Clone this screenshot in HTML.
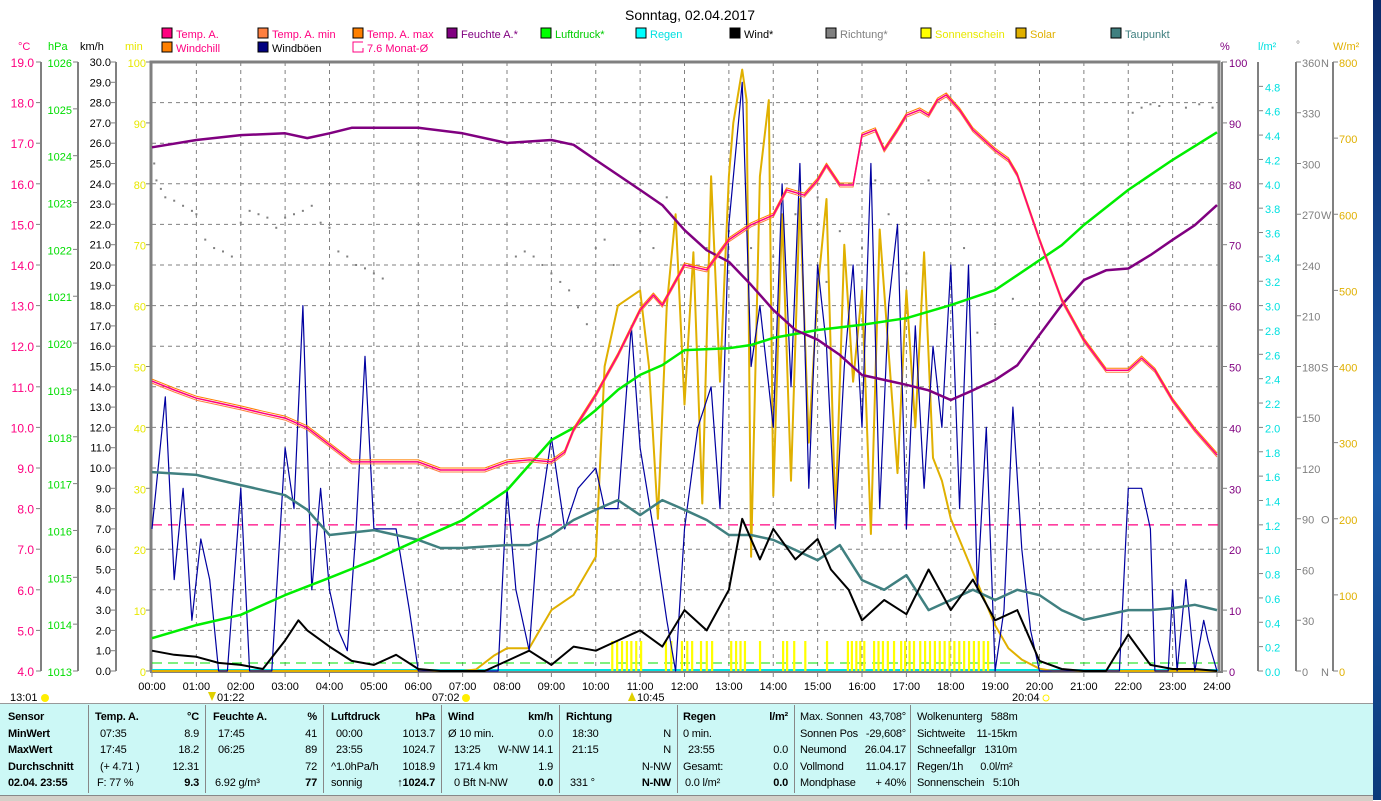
<!DOCTYPE html>
<html><head><meta charset="utf-8">
<style>
body{margin:0;width:1381px;height:800px;overflow:hidden;background:#fff;font-family:"Liberation Sans",sans-serif;position:relative}
svg{position:absolute;left:0;top:0}
.panel{position:absolute;left:0;top:703px;width:1373px;height:92px;background:#ccf8f6;border-top:1px solid #999}
.t{position:absolute;font-size:11px;white-space:pre;line-height:13px;color:#000;letter-spacing:-0.2px}
.b{font-weight:bold}
.sep{position:absolute;top:705px;width:1px;height:88px;background:#888}
</style></head><body>
<svg id="chart" width="1381" height="800"></svg>
<div class="panel"></div>
<div id="pt"></div>
<div style="position:absolute;left:1373px;top:0;width:8px;height:800px;background:linear-gradient(#0b2a6a,#1a5aa8 60%,#0b3a7a)"></div>
<div style="position:absolute;left:0;top:795px;width:1373px;height:5px;background:#d4d0c8;border-top:1px solid #888"></div>
<script>
// ---- data ----
const tempHours=[0,0.5,1,1.5,2,2.5,3,3.5,4,4.5,5,5.5,6,6.5,7,7.5,8,8.5,9,9.3,9.5,10,10.5,11,11.3,11.5,12,12.5,13,13.5,14,14.3,14.7,15,15.2,15.5,15.8,16,16.3,16.5,16.8,17,17.3,17.5,17.7,17.9,18.2,18.5,19,19.3,19.5,20,20.5,21,21.5,22,22.3,22.6,23,23.5,24];
const tempVals=[11.14,10.92,10.72,10.6,10.48,10.35,10.23,9.99,9.57,9.15,9.15,9.15,9.15,8.95,8.95,8.95,9.15,9.2,9.15,9.39,9.94,10.8,11.78,12.89,13.26,13.01,14.0,13.88,14.62,14.99,15.23,15.85,15.72,16.09,16.46,15.97,15.97,17.2,17.33,16.83,17.33,17.69,17.82,17.69,18.06,18.19,17.82,17.33,16.83,16.59,16.22,14.62,13.14,12.15,11.41,11.41,11.71,11.41,10.67,9.94,9.32];
const presHours=[0,1,2,3,4,5,6,7,8,9,9.5,10,10.5,11,11.5,12,13,13.5,14,15,16,17,18,19,19.5,20,20.5,21,22,23,24];
const presVals=[1013.7,1013.98,1014.2,1014.62,1014.99,1015.37,1015.8,1016.22,1016.86,1017.93,1018.19,1018.57,1019.0,1019.32,1019.53,1019.85,1019.89,1019.96,1020.11,1020.28,1020.39,1020.53,1020.81,1021.13,1021.45,1021.77,1022.09,1022.52,1023.27,1023.91,1024.5];
const humHours=[0,1,2,3,3.5,4,4.5,5,6,7,8,9,9.5,10,11,11.5,12,12.5,13,13.5,14,14.5,15,15.5,16,17,17.5,18,18.5,19,19.5,20,20.5,21,21.5,22,22.5,23,23.5,24];
const humVals=[86.0,87.2,88.0,88.3,87.5,88.3,89.2,89.2,89.2,88.3,86.7,87.2,86.4,83.9,79.0,76.5,72.4,69.1,67.2,63.4,59.3,56.0,54.4,51.9,48.6,47.0,46.1,44.5,46.1,47.8,50.2,55.2,60.1,64.2,65.8,66.1,68.3,70.8,73.2,76.5];
const dewHours=[0,1,2,3,3.5,4,5,6,6.5,7,8,8.5,9,9.5,10,10.5,11,11.5,12,12.5,13,13.5,14,14.5,15,15.5,16,16.5,17,17.5,18,18.5,19,19.5,20,20.5,21,21.5,22,22.5,23,23.5,24];
const dewVals=[8.9,8.83,8.58,8.33,7.97,7.35,7.47,7.23,7.03,7.03,7.1,7.1,7.35,7.72,7.97,8.21,7.84,8.21,7.97,7.72,7.35,7.35,7.23,6.98,6.73,7.1,6.24,6.0,6.36,5.5,5.75,6.0,5.75,6.0,5.87,5.5,5.26,5.38,5.5,5.5,5.55,5.63,5.5];
const windHours=[0,0.5,1,1.5,2,2.5,3,3.3,3.5,4,4.5,5,5.5,6,6.5,7,7.5,8,8.5,9,9.5,10,10.5,11,11.5,12,12.5,13,13.3,13.7,14,14.5,15,15.3,15.7,16,16.5,17,17.5,18,18.5,19,19.5,20,20.5,21,21.5,22,22.5,23,23.5,24];
const windVals=[1.0,0.8,0.7,0.4,0.3,0.1,1.5,2.5,2.0,1.2,0.5,0.3,0.8,0.1,0,0,0,0.5,1.0,0.3,1.2,1.0,1.5,2.0,1.2,3.0,2.0,4.0,7.5,5.5,7.0,5.5,6.5,5.0,4.0,2.5,3.5,2.8,5.0,3.0,4.5,2.5,3.0,0.5,0.1,0,0,1.8,0.3,0.1,0.1,0];
const gustHours=[0,0.3,0.5,0.7,0.9,1.1,1.3,1.5,1.7,2,2.2,2.5,2.7,3,3.2,3.4,3.6,3.8,4.0,4.2,4.4,4.6,4.8,5.0,5.2,5.5,5.8,6,6.5,7,7.5,7.8,8,8.2,8.5,8.7,9,9.3,9.6,10,10.2,10.5,10.8,11,11.3,11.6,11.8,12,12.3,12.6,12.8,13,13.3,13.5,13.7,14,14.2,14.4,14.6,14.8,15,15.2,15.4,15.6,15.8,16,16.2,16.4,16.6,16.8,17,17.2,17.4,17.6,17.8,18,18.2,18.4,18.6,18.8,19,19.2,19.4,19.6,19.8,20,21,21.8,22,22.3,22.5,22.6,22.9,23.0,23.1,23.3,23.5,23.7,23.8,24];
const gustVals=[7,13.5,4.5,9,2.5,6.5,4.5,0,0,9,0,0,0,11,8,18,4,9,4,2,1,7,15.5,7,7,7,3,0,0,0,0,0,9,4,1,7,11.5,7,9,10,8,8,17,11,7,2.5,0,7,12,14,8,22,29,15,18,12,24,14,25,9,20,16,7,15,20,12,25,8,18,22,7,17,9,16,12,20,8,20,4,12,0,3,13,6,2,0,0,0,9,9,7,0,0,4,0,4.5,0,2.5,1.5,0];
const solarHours=[0,7,7.3,7.7,8,8.5,9,9.5,10,10.2,10.5,11,11.2,11.4,11.6,11.8,12,12.2,12.4,12.6,12.8,13,13.1,13.3,13.4,13.5,13.7,13.9,14,14.2,14.4,14.6,14.8,15,15.2,15.4,15.6,15.8,16,16.2,16.4,16.6,16.8,17,17.2,17.4,17.6,17.8,18,18.5,19,19.3,19.6,20,20.3,24];
const solarVals=[0,0,2,20,30,30,80,100,150,400,480,500,400,200,480,600,350,550,220,650,380,650,720,790,750,150,650,750,230,600,250,620,300,500,620,200,560,380,500,180,580,420,260,500,320,550,280,250,200,130,60,30,15,3,0,0];
const sunHours=[10.37,10.48,10.59,10.7,10.8,10.91,11.02,11.58,11.7,11.94,12.06,12.17,12.37,12.5,12.62,13.05,13.16,13.26,13.36,13.7,14.22,14.31,14.47,14.72,15.21,15.68,15.77,15.87,15.96,16.05,16.27,16.37,16.47,16.58,16.72,16.88,16.97,17.07,17.17,17.31,17.42,17.53,17.64,17.75,17.86,17.97,18.08,18.19,18.3,18.41,18.52,18.63,18.74,18.84];
const dirHours=[0.05,0.1,0.2,0.3,0.5,0.7,0.9,1.0,1.2,1.4,1.6,1.8,2.0,2.2,2.4,2.6,2.8,3.0,3.2,3.4,3.6,3.8,4.0,4.2,4.4,4.6,4.8,5.0,5.2,8.2,8.4,8.6,8.8,9.0,9.2,9.4,9.6,9.8,10.0,10.2,10.4,11.0,11.3,11.6,12,12.5,13,13.5,14,14.5,15,15.2,15.5,16,16.3,16.6,17,17.5,18,18.3,18.6,19,19.4,22.1,22.3,22.5,22.7,23.3,23.6,23.9];
const dirVals=[300,290,285,280,278,275,272,270,255,250,248,245,265,272,270,268,262,268,270,272,275,265,262,248,245,240,238,235,232,245,248,245,240,235,230,225,215,205,250,255,240,260,250,280,240,250,260,250,245,270,280,230,260,250,290,270,235,290,235,250,200,205,220,330,333,335,334,333,335,333];
const monthAvg=7.6;
const hourLabels=["00:00","01:00","02:00","03:00","04:00","05:00","06:00","07:00","08:00","09:00","10:00","11:00","12:00","13:00","14:00","15:00","16:00","17:00","18:00","19:00","20:00","21:00","22:00","23:00","24:00"];

// ---- scales ----
const X=h=>152+h*44.375;
const yT=t=>671-(t-4)*40.6;
const yP=p=>671-(p-1013)*46.846;
const yW=w=>671-w*20.3;
const yH=v=>671-v*6.09;
const yS=s=>671-s*0.76125;
const yD=d=>671-d*1.6917;

const svg=document.getElementById('chart');
const NS='http://www.w3.org/2000/svg';
function mk(tag,attrs,parent){const e=document.createElementNS(NS,tag);for(const k in attrs)e.setAttribute(k,attrs[k]);(parent||svg).appendChild(e);return e;}
function txt(x,y,s,fill,anchor,size){const e=mk('text',{x:x,y:y,fill:fill,'text-anchor':anchor||'start','font-size':size||11,'font-family':'Liberation Sans, sans-serif'});e.textContent=s;return e;}

for(let h=1;h<24;h++){const l=mk('line',{x1:X(h),x2:X(h),y1:62,y2:671,stroke:'#808080','stroke-dasharray':'4,4','stroke-width':1});

}
for(let t=5;t<19;t++){const l=mk('line',{x1:152,x2:1218,y1:yT(t),y2:yT(t),stroke:'#808080','stroke-dasharray':'4,4','stroke-width':1});

}
let bd=mk('path',{d:'M151,671 V62 H1219 V673',fill:'none',stroke:'#808080','stroke-width':3});


mk('line',{x1:1222,x2:1222,y1:62,y2:673,stroke:'#808080','stroke-width':2});
mk('line',{x1:150,x2:1222,y1:672,y2:672,stroke:'#808080','stroke-width':2});

let ml=mk('line',{x1:152,x2:1218,y1:yT(monthAvg),y2:yT(monthAvg),stroke:'#ff0080','stroke-dasharray':'10,6','stroke-width':1.2});


mk('line',{x1:152,x2:1218,y1:663,y2:663,stroke:'#00e000','stroke-dasharray':'10,6','stroke-width':1});
mk('line',{x1:152,x2:1218,y1:670,y2:670,stroke:'#00e0e0','stroke-width':2});

sunHours.forEach(h=>{const r=mk('rect',{x:X(h)-1,y:641,width:2.2,height:30,fill:'#ffff00'});

});
dirHours.forEach((h,i)=>{const c=mk('rect',{x:X(h)-1,y:yD(dirVals[i])-1,width:2,height:2,fill:'#808080'});

});

function line(hs,vs,ys,color,w,name,dy){const d=hs.map((h,i)=>(i?'L':'M')+X(h).toFixed(1)+','+(ys(vs[i])+(dy||0)).toFixed(1)).join(' ');
const p=mk('path',{d:d,fill:'none',stroke:color,'stroke-width':w,'stroke-linejoin':'round'});

return p;}
line(solarHours,solarVals,yS,'#e0b000',2,'solar-line');
line(gustHours,gustVals,yW,'#0000a0',1.2,'gust-line');
line(dewHours,dewVals,yT,'#408080',2.5,'dewpoint-line');
line(presHours,presVals,yP,'#00ee00',2.5,'pressure-line');
line(humHours,humVals,yH,'#800080',2.5,'humidity-line');
line(windHours,windVals,yW,'#000000',2,'wind-line');
line(tempHours,tempVals,yT,'#ff8000',1,'temp-max-line',-2);
line(tempHours,tempVals,yT,'#ff8040',1,'temp-min-line',2);
line(tempHours,tempVals,yT,'#ff0080',1.5,'temp-line');

function vaxis(x){mk('line',{x1:x,x2:x,y1:62,y2:671,stroke:'#808080','stroke-width':2});}
vaxis(41);vaxis(78);vaxis(116);vaxis(1258);vaxis(1296);vaxis(1333);
for(let t=4;t<=19;t++){const y=yT(t);mk('line',{x1:36,x2:41,y1:y,y2:y,stroke:'#808080'});txt(34,y+5,t.toFixed(1),'#ff0080','end',12);}
for(let p=1013;p<=1026;p++){const y=yP(p);mk('line',{x1:73,x2:78,y1:y,y2:y,stroke:'#808080'});txt(72,y+5,String(p),'#00dd00','end',11);}
for(let w=0;w<=30;w++){const y=yW(w);mk('line',{x1:111,x2:116,y1:y,y2:y,stroke:'#808080'});txt(111,y+4,w.toFixed(1),'#000','end',11);}
for(let m=0;m<=100;m+=10){const y=yH(m);mk('line',{x1:146,x2:151,y1:y,y2:y,stroke:'#808080'});txt(146,y+5,String(m),'#e8e800','end',11);}
txt(18,50,'°C','#ff0080','start',11);txt(48,50,'hPa','#00dd00','start',11);txt(80,50,'km/h','#000','start',11);txt(125,50,'min','#e8e800','start',11);
for(let v=0;v<=100;v+=10){const y=yH(v);mk('line',{x1:1222,x2:1227,y1:y,y2:y,stroke:'#808080'});txt(1229,y+5,String(v),'#800080','start',11);}
for(let k=0;k<=24;k++){const v=k*0.2,y=671-v*121.8;mk('line',{x1:1258,x2:1263,y1:y,y2:y,stroke:'#808080'});txt(1265,y+5,v.toFixed(1),'#00e0e0','start',11);}
const dirL={0:'N',90:'O',180:'S',270:'W',360:'N'};
for(let d=0;d<=360;d+=30){const y=yD(d);mk('line',{x1:1296,x2:1301,y1:y,y2:y,stroke:'#808080'});txt(1302,y+5,String(d),'#808080','start',11);if(dirL[d]!==undefined)txt(1321,y+5,dirL[d],'#808080','start',11);}
for(let s=0;s<=800;s+=100){const y=yS(s);mk('line',{x1:1333,x2:1338,y1:y,y2:y,stroke:'#808080'});txt(1339,y+5,String(s),'#e0b000','start',11);}
txt(1220,50,'%','#800080','start',11);txt(1258,50,'l/m²','#00e0e0','start',11);txt(1296,48,'°','#808080','start',10);txt(1333,50,'W/m²','#e0b000','start',11);
hourLabels.forEach((s,i)=>{txt(X(i),690,s,'#000','middle',11);mk('line',{x1:X(i),x2:X(i),y1:672,y2:677,stroke:'#808080'});});
txt(10,701,'13:01','#000','start',11);mk('circle',{cx:45,cy:698,r:4,fill:'#ffee00'});
txt(217,701,'01:22','#000','start',11);mk('path',{d:'M208,692 l4,9 l4,-9z',fill:'#e0d000'});
txt(432,701,'07:02','#000','start',11);mk('circle',{cx:466,cy:698,r:4,fill:'#ffee00'});
txt(637,701,'10:45','#000','start',11);mk('path',{d:'M628,701 l4,-9 l4,9z',fill:'#e0d000'});
txt(1012,701,'20:04','#000','start',11);mk('circle',{cx:1046,cy:698,r:3,fill:'none',stroke:'#ffee00'});
txt(690,20,'Sonntag, 02.04.2017','#000','middle',14);
const leg=[[162,38,'Temp. A.','#ff0080','#ff0080'],[258,38,'Temp. A. min','#ff8040','#ff0080'],[353,38,'Temp. A. max','#ff8000','#ff0080'],[447,38,'Feuchte A.*','#800080','#800080'],[541,38,'Luftdruck*','#00ff00','#00cc00'],[636,38,'Regen','#00ffff','#00e0e0'],[730,38,'Wind*','#000000','#000'],[826,38,'Richtung*','#808080','#808080'],[921,38,'Sonnenschein','#ffff00','#e8e800'],[1016,38,'Solar','#e0b000','#e0b000'],[1111,38,'Taupunkt','#408080','#408080'],[162,52,'Windchill','#ff8000','#ff0080'],[258,52,'Windböen','#000080','#000']];
leg.forEach(l=>{const r=mk('rect',{x:l[0],y:l[1]-10,width:10,height:10,fill:l[3],stroke:'#000'});


const t=txt(l[0]+14,l[1],l[2],l[4],'start',11);

});
mk('path',{d:'M363,42 H353 V52 H363 V48',fill:'none',stroke:'#ff0080'});
txt(367,52,'7.6 Monat-Ø','#ff0080','start',11);

const P=document.getElementById('pt');
function pt(x,row,s,bold,right){const d=document.createElement('div');d.className='t'+(bold?' b':'');d.textContent=s;d.style.top=(711+row*16.5)+'px';
if(right){d.style.right=(1381-x)+'px';}else d.style.left=x+'px';

P.appendChild(d);}
[88,205,323,441,559,677,794,910].forEach(x=>{const s=document.createElement('div');s.className='sep';s.style.left=x+'px';P.appendChild(s);});
['Sensor','MinWert','MaxWert','Durchschnitt','02.04. 23:55'].forEach((s,i)=>pt(8,i,s,true));
pt(95,0,'Temp. A.',true);pt(199,0,'°C',true,1);pt(100,1,'07:35');pt(199,1,'8.9',0,1);pt(100,2,'17:45');pt(199,2,'18.2',0,1);pt(100,3,'(+ 4.71 )');pt(199,3,'12.31',0,1);pt(97,4,'F: 77 %');pt(199,4,'9.3',true,1);
pt(213,0,'Feuchte A.',true);pt(317,0,'%',true,1);pt(218,1,'17:45');pt(317,1,'41',0,1);pt(218,2,'06:25');pt(317,2,'89',0,1);pt(317,3,'72',0,1);pt(215,4,'6.92 g/m³');pt(317,4,'77',true,1);
pt(331,0,'Luftdruck',true);pt(435,0,'hPa',true,1);pt(336,1,'00:00');pt(435,1,'1013.7',0,1);pt(336,2,'23:55');pt(435,2,'1024.7',0,1);pt(331,3,'^1.0hPa/h');pt(435,3,'1018.9',0,1);pt(331,4,'sonnig');pt(435,4,'↑1024.7',true,1);
pt(448,0,'Wind',true);pt(553,0,'km/h',true,1);pt(448,1,'Ø 10 min.');pt(553,1,'0.0',0,1);pt(454,2,'13:25');pt(553,2,'W-NW 14.1',0,1);pt(454,3,'171.4 km');pt(553,3,'1.9',0,1);pt(454,4,'0 Bft N-NW');pt(553,4,'0.0',true,1);
pt(566,0,'Richtung',true);pt(572,1,'18:30');pt(671,1,'N',0,1);pt(572,2,'21:15');pt(671,2,'N',0,1);pt(671,3,'N-NW',0,1);pt(570,4,'331 °');pt(671,4,'N-NW',true,1);
pt(683,0,'Regen',true);pt(788,0,'l/m²',true,1);pt(683,1,'0 min.');pt(688,2,'23:55');pt(788,2,'0.0',0,1);pt(683,3,'Gesamt:');pt(788,3,'0.0',0,1);pt(685,4,'0.0 l/m²');pt(788,4,'0.0',true,1);
pt(800,0,'Max. Sonnen');pt(906,0,'43,708°',0,1);pt(800,1,'Sonnen Pos');pt(906,1,'-29,608°',0,1);pt(800,2,'Neumond');pt(906,2,'26.04.17',0,1);pt(800,3,'Vollmond');pt(906,3,'11.04.17',0,1);pt(800,4,'Mondphase');pt(906,4,'+ 40%',0,1);
pt(917,0,'Wolkenunterg   588m');pt(917,1,'Sichtweite    11-15km');pt(917,2,'Schneefallgr   1310m');pt(917,3,'Regen/1h      0.0l/m²');pt(917,4,'Sonnenschein   5:10h');
</script>
</body></html>
